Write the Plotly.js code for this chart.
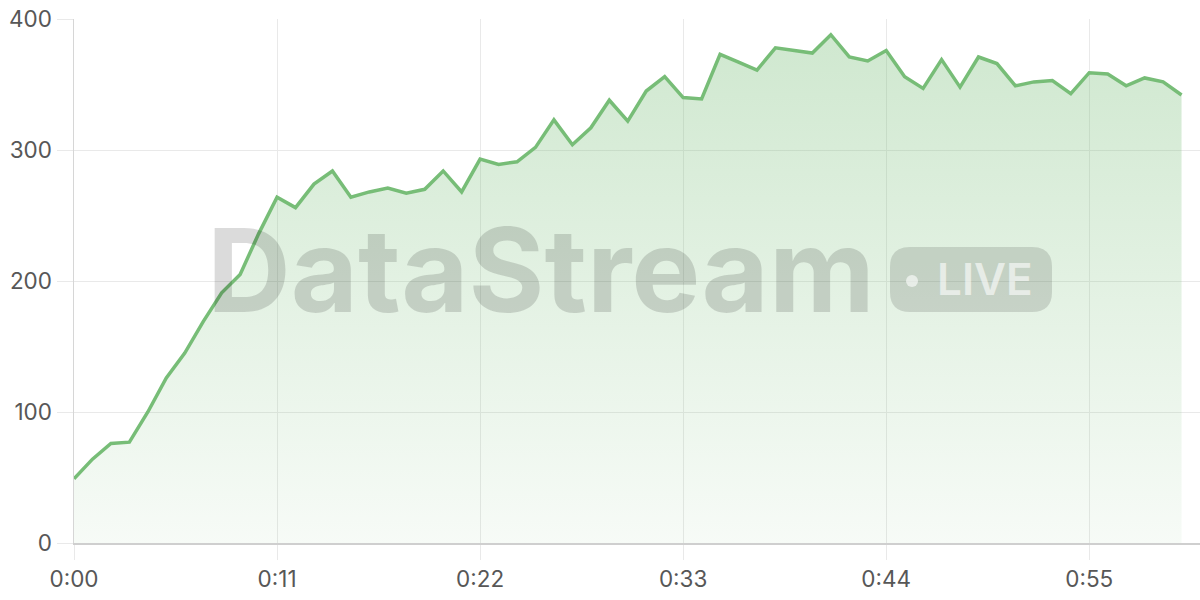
<!DOCTYPE html>
<html>
<head>
<meta charset="utf-8">
<script src="https://cdn.plot.ly/plotly-3.0.1.min.js"></script>
<style>
  html, body { margin: 0; padding: 0; background: #fff; }
  #chart { width: 1200px; height: 600px; }
</style>
</head>
<body>
<div id="chart"></div>
<script>
"use strict";

// seconds since start
const seconds = [
  0, 1, 2, 3, 4, 5, 6, 7, 8, 9,
  10, 11, 12, 13, 14, 15, 16, 17, 18, 19,
  20, 21, 22, 23, 24, 25, 26, 27, 28, 29,
  30, 31, 32, 33, 34, 35, 36, 37, 38, 39,
  40, 41, 42, 43, 44, 45, 46, 47, 48, 49,
  50, 51, 52, 53, 54, 55, 56, 57, 58, 59, 60
];

const values = [
  49, 64, 76, 77, 100, 126, 145, 169, 191, 205,
  236, 264, 256, 274, 284, 264, 268, 271, 267, 270,
  284, 268, 293, 289, 291, 302, 323, 304, 317, 338,
  322, 345, 356, 340, 339, 373, 367, 361, 378, 376,
  374, 388, 371, 368, 376, 356, 347, 369, 348, 371,
  366, 349, 352, 353, 343, 359, 358, 349, 355, 352, 342
];

const xTickVals = [0, 11, 22, 33, 44, 55];
const xTickText = ["0:00", "0:11", "0:22", "0:33", "0:44", "0:55"];
const yTickVals = [0, 100, 200, 300, 400];

const GREEN = "rgb(119,189,119)";
const FONT = "Inter, 'Noto Sans', sans-serif";

// plot area in page pixels, used to place the watermark
const PLOT = { left: 74, right: 1200, top: 19, bottom: 543 };
const px = x => (x - PLOT.left) / (PLOT.right - PLOT.left);
const py = y => (PLOT.bottom - y) / (PLOT.bottom - PLOT.top);

// rounded rect as a paper-space path
function pill(x0, y0, x1, y1, r) {
  const rx = r / (PLOT.right - PLOT.left), ry = r / (PLOT.bottom - PLOT.top);
  const a = px(x0), b = px(x1), t = py(y0), u = py(y1);
  return `M${a + rx},${t} L${b - rx},${t} Q${b},${t} ${b},${t - ry} ` +
    `L${b},${u + ry} Q${b},${u} ${b - rx},${u} L${a + rx},${u} ` +
    `Q${a},${u} ${a},${u + ry} L${a},${t - ry} Q${a},${t} ${a + rx},${t} Z`;
}

const trace = {
  type: "scatter",
  mode: "lines",
  x: seconds,
  y: values,
  line: { color: GREEN, width: 3.5 },
  fill: "tozeroy",
  fillgradient: {
    type: "vertical",
    start: 0,
    stop: 400,
    colorscale: [[0, "rgba(119,189,119,0.06)"], [1, "rgba(119,189,119,0.36)"]]
  },
  hoverinfo: "skip"
};

const tickFont = { family: FONT, size: 22.5, color: "#575757" };

const layout = {
  width: 1200,
  height: 600,
  margin: { l: PLOT.left, r: 0, t: PLOT.top, b: 600 - PLOT.bottom },
  paper_bgcolor: "#fff",
  plot_bgcolor: "#fff",
  showlegend: false,
  font: { family: FONT, color: "#575757", size: 22 },
  xaxis: {
    range: [0, 61],
    tickvals: xTickVals,
    ticktext: xTickText,
    showgrid: true,
    gridcolor: "#e9e9e9",
    gridwidth: 1,
    ticks: "outside",
    ticklen: 15,
    tickcolor: "#e9e9e9",
    showline: true,
    linecolor: "#cfcfcf",
    linewidth: 1.5,
    zeroline: false,
    tickfont: tickFont
  },
  yaxis: {
    range: [0, 400],
    tickvals: yTickVals,
    showgrid: true,
    gridcolor: "#e9e9e9",
    gridwidth: 1,
    ticks: "outside",
    ticklen: 16,
    tickcolor: "#e9e9e9",
    showline: true,
    linecolor: "#d6d6d6",
    linewidth: 1.5,
    zeroline: false,
    tickfont: tickFont
  },
  shapes: [
    {
      type: "path", xref: "paper", yref: "paper", layer: "above",
      path: pill(890, 247, 1052, 312, 20),
      fillcolor: "rgba(0,0,0,0.13)", line: { width: 0 }
    },
    {
      type: "circle", xref: "paper", yref: "paper", layer: "above",
      x0: px(906), x1: px(918), y0: py(275), y1: py(287),
      fillcolor: "rgba(255,255,255,0.6)", line: { width: 0 }
    }
  ],
  annotations: [
    {
      text: "DataStream", xref: "paper", yref: "paper",
      x: px(541), y: py(270), xanchor: "center", yanchor: "middle",
      showarrow: false,
      font: { family: FONT, size: 116, weight: 700, color: "rgba(0,0,0,0.14)" }
    },
    {
      text: "LIVE", xref: "paper", yref: "paper",
      x: px(985), y: py(279), xanchor: "center", yanchor: "middle",
      showarrow: false,
      font: { family: FONT, size: 44, weight: 600, color: "rgba(255,255,255,0.6)" }
    }
  ]
};

Plotly.newPlot("chart", [trace], layout, { displayModeBar: false, staticPlot: true });
</script>
</body>
</html>
